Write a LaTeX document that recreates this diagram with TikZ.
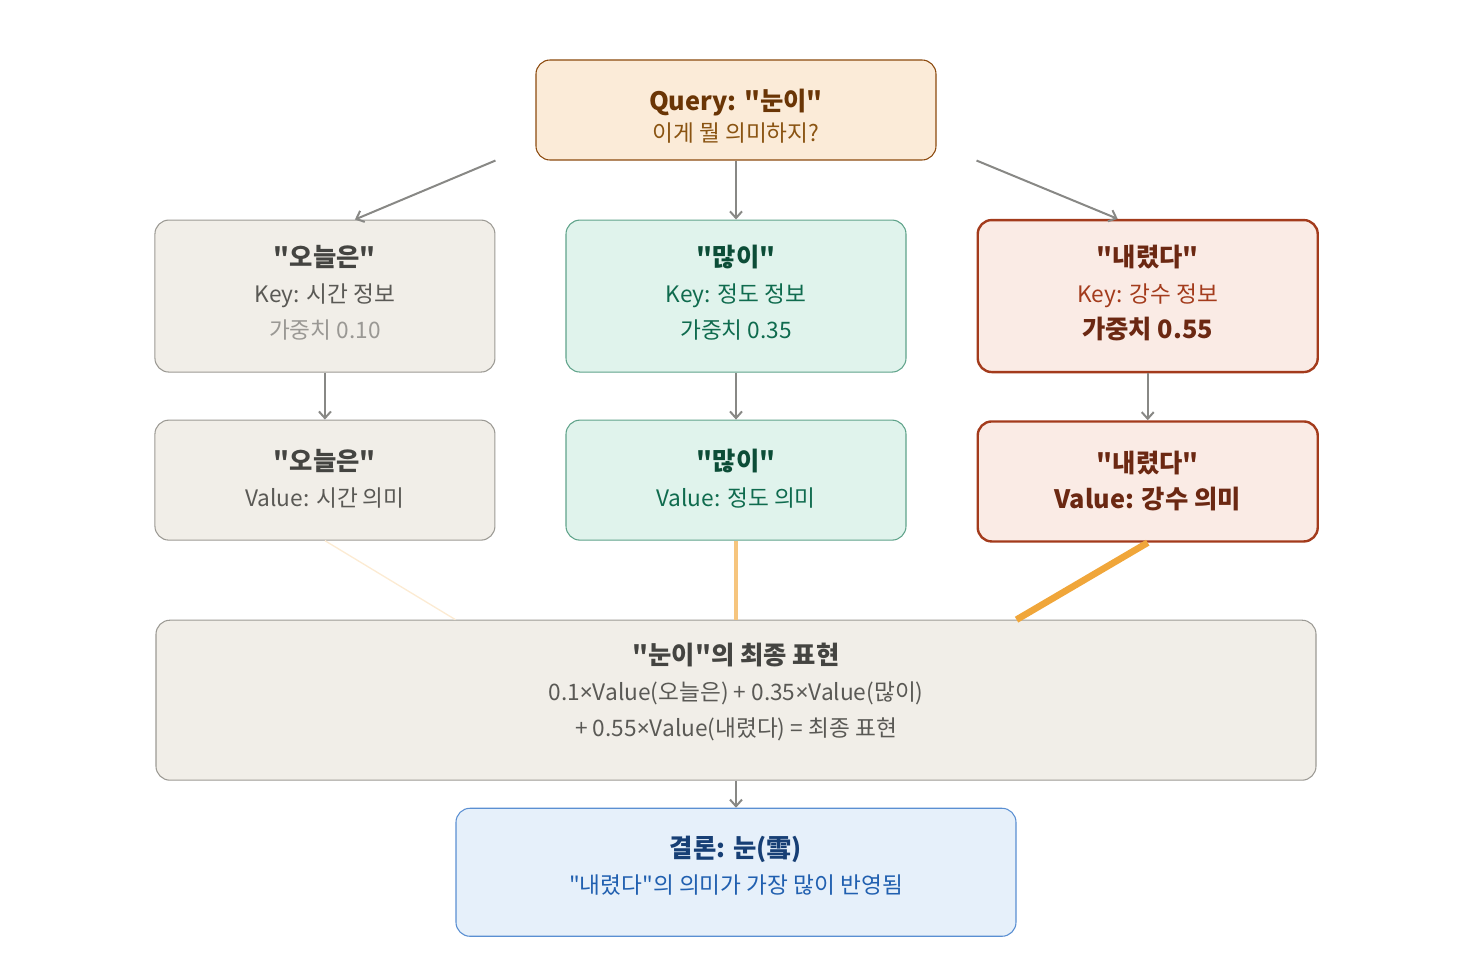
\documentclass[tikz,border=0pt]{standalone}
\usepackage{fontspec}
\setmainfont{Noto Sans CJK KR}[Ligatures=TeXOff]
\newfontfamily\latinfont{Noto Sans}
\usetikzlibrary{positioning,arrows.meta}

\definecolor{qfill}{HTML}{FBEBD8}
\definecolor{qdraw}{HTML}{8C4A0E}
\definecolor{qtitle}{HTML}{6A3505}
\definecolor{qtext}{HTML}{8A5412}
\definecolor{gfill}{HTML}{F1EEE8}
\definecolor{gdraw}{HTML}{9C9A94}
\definecolor{gtitle}{HTML}{444441}
\definecolor{gtext}{HTML}{5A5955}
\definecolor{glight}{HTML}{9A9894}
\definecolor{tfill}{HTML}{E0F3EC}
\definecolor{tdraw}{HTML}{5FA38A}
\definecolor{ttitle}{HTML}{0C4D37}
\definecolor{ttext}{HTML}{0F6B4E}
\definecolor{rfill}{HTML}{FAEBE5}
\definecolor{rdraw}{HTML}{A33B1C}
\definecolor{rtitle}{HTML}{6B2812}
\definecolor{rtext}{HTML}{A33B1C}
\definecolor{bfill}{HTML}{E6F0FA}
\definecolor{bdraw}{HTML}{5A8FD2}
\definecolor{btitle}{HTML}{173F75}
\definecolor{btext}{HTML}{2160B0}
\definecolor{edge}{HTML}{888885}
\definecolor{wlow}{HTML}{FCEBD3}
\definecolor{wmid}{HTML}{F6C57E}
\definecolor{whigh}{HTML}{F0A63A}

\newcommand{\ttl}[1]{{\bfseries\fontsize{19}{27}\selectfont #1}}
\newcommand{\mul}{{\latinfont ×}}

\tikzstyle{box} = [rectangle, draw, rounded corners=10.5pt, align=center, line width=0.8pt, font=\fontsize{17}{27}\selectfont]
\tikzstyle{query} = [box, fill=qfill, draw=qdraw, text=qtext, minimum width=300pt, minimum height=75pt, font=\fontsize{17}{23}\selectfont]
\tikzstyle{keybox} = [box, minimum width=255pt, minimum height=114pt]
\tikzstyle{valbox} = [box, minimum width=255pt, minimum height=90pt]
\tikzstyle{gray} = [fill=gfill, draw=gdraw, text=gtext]
\tikzstyle{teal} = [fill=tfill, draw=tdraw, text=ttext]
\tikzstyle{rust} = [fill=rfill, draw=rdraw, text=rtext, line width=1.8pt]
\tikzstyle{sumbox} = [box, gray, minimum width=870pt, minimum height=120pt]
\tikzstyle{result} = [box, fill=bfill, draw=bdraw, text=btext, minimum width=420pt, minimum height=96pt]
\tikzstyle{link} = [draw=edge, line width=1.5pt, -{Straight Barb[length=5pt,width=9pt]}]
\tikzstyle{weight} = [line cap=butt]

\begin{document}
\begin{tikzpicture}[x=0.75pt,y=-0.75pt,node distance=44.25pt and 52.5pt]
    \useasboundingbox (0,0) rectangle (1472,980);
    \node [query] (query) at (736,110) {\mbox{}\\[2.5pt]\textcolor{qtitle}{\ttl{Query: "눈이"}}\\이게 뭘 의미하지?};

    \node [keybox, teal, below=of query] (keym) {\textcolor{ttitle}{\ttl{"많이"}}\\Key: 정도 정보\\가중치 0.35\\[-21pt]};
    \node [keybox, gray, left=of keym] (keyl) {\textcolor{gtitle}{\ttl{"오늘은"}}\\Key: 시간 정보\\\textcolor{glight}{가중치 0.10}\\[-21pt]};
    \node [keybox, rust, right=of keym] (keyr) {\textcolor{rtitle}{\ttl{"내렸다"}}\\Key: 강수 정보\\\textcolor{rtitle}{\ttl{가중치 0.55}}\\[-21pt]};

    \node [valbox, gray, below=35.25pt of keyl] (vall) {\textcolor{gtitle}{\ttl{"오늘은"}}\\Value: 시간 의미\\[-24pt]};
    \node [valbox, teal, below=35.25pt of keym] (valm) {\textcolor{ttitle}{\ttl{"많이"}}\\Value: 정도 의미\\[-24pt]};
    \node [valbox, rust, below=35.25pt of keyr] (valr) {\textcolor{rtitle}{\ttl{"내렸다"}}\\\textcolor{rtitle}{\ttl{Value: 강수 의미}}\\[-24pt]};

    \node [sumbox, below=59.25pt of valm] (final) {\textcolor{gtitle}{\ttl{"눈이"의 최종 표현}}\\0.1\mul Value(오늘은) + 0.35\mul Value(많이)\\+ 0.55\mul Value(내렸다) = 최종 표현\\[-12pt]};
    \node [result, below=20.25pt of final] (concl) {\textcolor{btitle}{\ttl{결론: 눈(雪)}}\\"내렸다"의 의미가 가장 많이 반영됨\\[-16pt]};

    \draw [link] ([xshift=-30pt]query.south west) -- ([xshift=22.5pt]keyl.north);
    \draw [link] (query) -- (keym);
    \draw [link] ([xshift=30pt]query.south east) -- ([xshift=-22.5pt]keyr.north);
    \draw [link] (keyl) -- (vall);
    \draw [link] (keym) -- (valm);
    \draw [link] (keyr) -- (valr);
    \draw [weight, draw=wlow, line width=1pt] (vall.south) -- ([xshift=225pt]final.north west);
    \draw [weight, draw=wmid, line width=3pt] (valm) -- (final);
    \draw [weight, draw=whigh, line width=5pt] (valr.south) -- ([xshift=-225pt]final.north east);
    \draw [link] (final) -- (concl);
\end{tikzpicture}
\end{document}
